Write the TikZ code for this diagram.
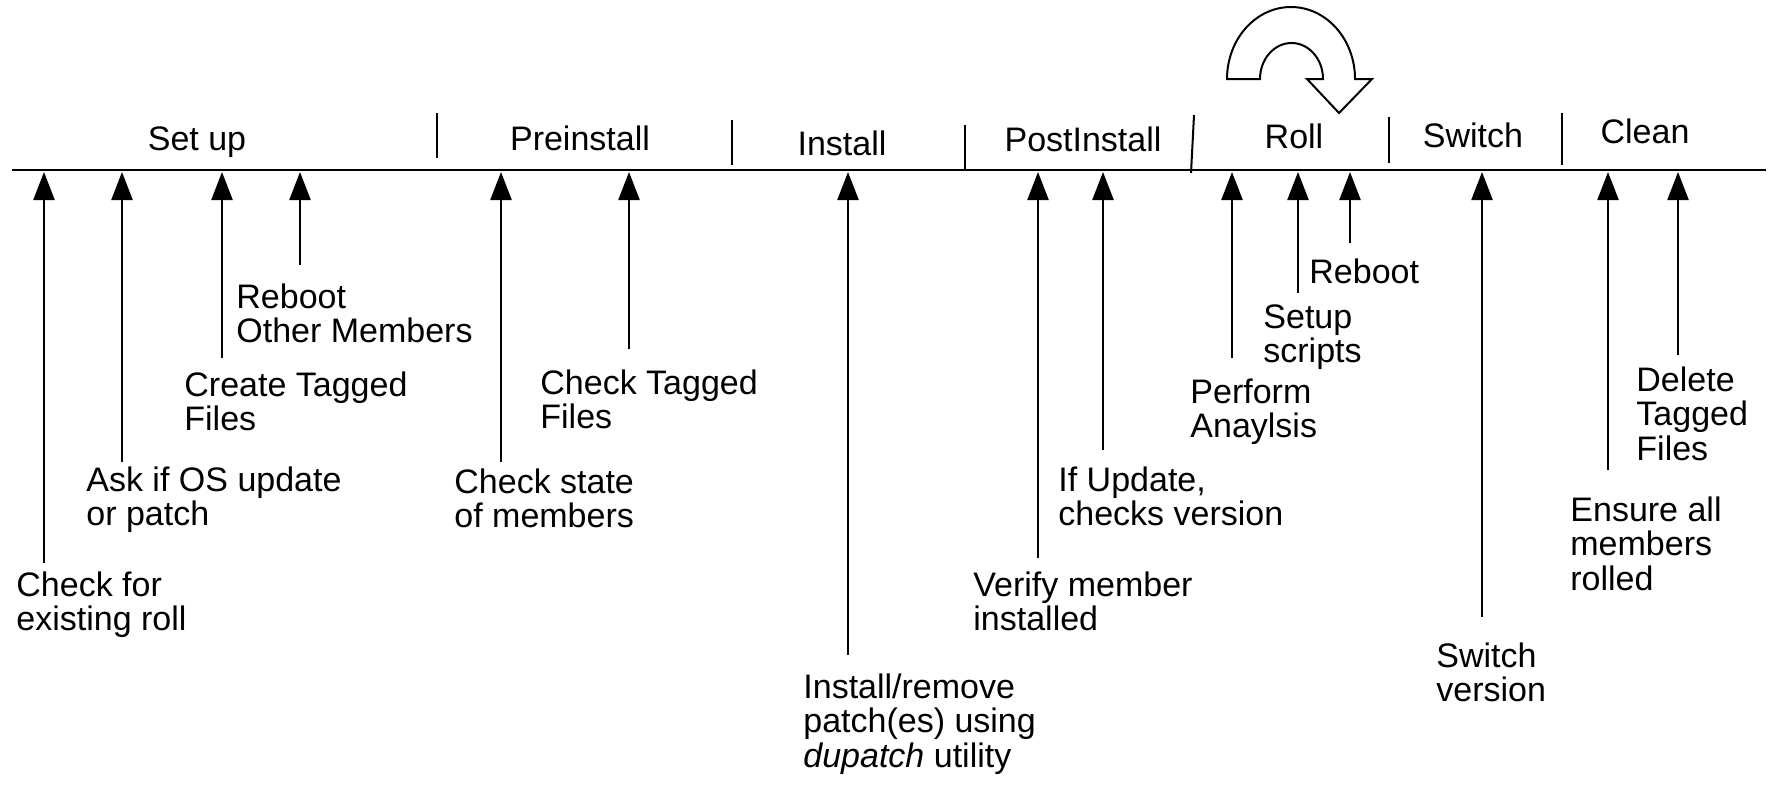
\documentclass[tikz,border=0pt]{standalone}
\usepackage{fontspec}
\setmainfont{Liberation Sans}
\usetikzlibrary{arrows.meta}

\tikzset{
  phase/.style={anchor=base, inner sep=0pt},
  step label/.style={anchor=north west, inner sep=0pt, align=left},
  up/.style={line width=1.15pt, -{Triangle[length=14pt, width=10.5pt]}},
}

\begin{document}
\begin{tikzpicture}[x=0.5pt, y=-0.5pt, font=\fontsize{17}{17.3}\selectfont]
    \useasboundingbox (0,0) rectangle (1770,787);
    % time line
    \coordinate (start) at (12,170);
    \coordinate (stop) at (1766,170);
    \draw[line width=1.35pt] (start) -- (stop);
    % phase borders
    \foreach \i/\xa/\ya/\xb/\yb in {1/437/113/437/158, 2/732/120/732/165, 3/965/125/965/170,
                                    4/1194/115/1191/173, 5/1389/117/1389/163, 6/1562/113/1562/165} {
        \coordinate (bt\i) at (\xa,\ya);
        \coordinate (bb\i) at (\xb,\yb);
        \draw[line width=1pt] (bt\i) -- (bb\i);
    }
    % phase names
    \foreach \n/\x/\y/\l in {setup/197/150/Set up, pre/580/150/Preinstall, inst/842/155/Install,
                             post/1083/151/PostInstall, roll/1294/148/Roll, switch/1473/147/Switch,
                             clean/1645/143/Clean} {
        \node[phase] (\n) at (\x,\y) {\l};
    }
    % steps: arrow x, arrow foot, label corner, label
    \foreach \n/\x/\yb/\tx/\ty/\l in {
        a1/44/563/16/571/{Check for\\existing roll},
        a2/122/462/86/466/{Ask if OS update\\or patch},
        a3/222/358/184/371/{Create Tagged\\Files},
        a4/300/265/236/283/{Reboot\\Other Members},
        b1/501/462/454/468/{Check state\\of members},
        b2/629/349/540/369/{Check Tagged\\Files},
        c1/848/655/803/673/{Install/remove\\patch(es) using\\\textit{dupatch} utility},
        d1/1038/558/973/571/{Verify member\\installed},
        d2/1103/450/1058/466/{If Update,\\checks version},
        e1/1232/358/1190/378/{Perform\\Anaylsis},
        e2/1298/293/1263/304/{Setup\\scripts},
        e3/1350/243/1309/258/{Reboot},
        f1/1482/617/1436/642/{Switch\\version},
        g1/1608/470/1570/496/{Ensure all\\members\\rolled},
        g2/1678/355/1636/366/{Delete\\Tagged\\Files}} {
        \coordinate (foot\n) at (\x,\yb);
        \coordinate (tip\n) at (\x,172);
        \draw[up] (foot\n) -- (tip\n);
        \node[step label] (lbl\n) at (\tx,\ty) {\l};
    }
    % rolling arrow over Roll
    \draw[line width=1pt, fill=white] (1227,79) arc[start angle=180, end angle=360, x radius=64, y radius=72]
        -- (1372,79) -- (1339,113) -- (1307,79) -- (1323,79)
        arc[start angle=360, end angle=180, x radius=31.5, y radius=36] -- cycle;
\end{tikzpicture}
\end{document}
